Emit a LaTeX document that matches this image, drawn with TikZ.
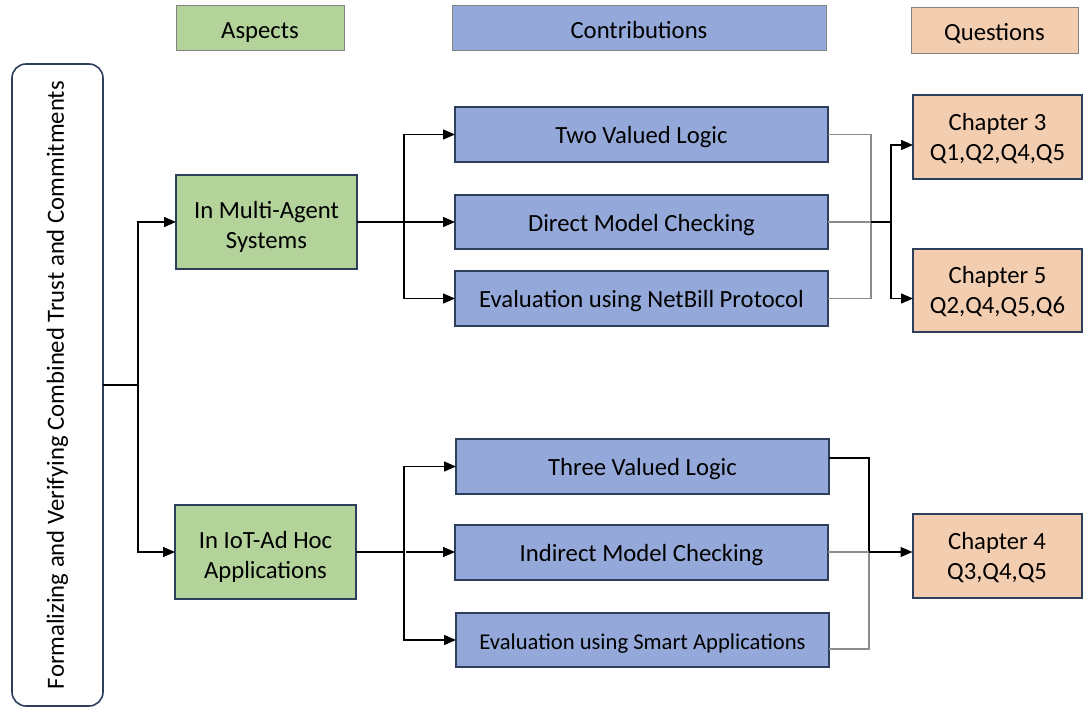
\documentclass[tikz,border=0pt]{standalone}
\usepackage{fontspec}
\setmainfont{Carlito}
\usetikzlibrary{arrows.meta}

\definecolor{aspectgreen}{RGB}{179,211,155}
\definecolor{contribblue}{RGB}{148,169,217}
\definecolor{questorange}{RGB}{243,205,176}
\definecolor{boxedge}{RGB}{46,63,94}
\definecolor{headedge}{RGB}{130,130,130}
\definecolor{thinline}{RGB}{140,140,140}

\tikzset{
  every node/.style={font=\fontsize{24.7}{30}\selectfont, inner sep=0pt, outer sep=0pt, align=center},
  box/.style={draw=boxedge, line width=2pt, fill=#1},
  headbox/.style={draw=headedge, line width=1pt, fill=#1, text height=20pt, text depth=0pt},
  oneline/.style={text height=18pt, text depth=0pt},
  twoline/.style={text height=#1, text depth=0pt},
  twoline/.default=46pt,
  link/.style={line width=1.4pt, black},
  faint/.style={line width=1.1pt, thinline},
  arr/.style={link, -{Triangle[length=12pt,width=10pt]}}
}

\begin{document}
\begin{tikzpicture}[x=1pt, y=-1pt]
  \useasboundingbox (0,0) rectangle (1083,709);

  % column headers
  \node[headbox=aspectgreen, minimum width=168, minimum height=45] (hA) at (260,28.5) {Aspects};
  \node[headbox=contribblue, minimum width=374, minimum height=45] (hC) at (639,28.5) {Contributions};
  \node[headbox=questorange, minimum width=167, minimum height=46] (hQ) at (994.5,31) {Questions};

  % overall topic
  \node[draw=boxedge, line width=1.6pt, rounded corners=14pt, fill=white,
        minimum width=642, minimum height=91, rotate=90] (root) at (57.5,385)
        {Formalizing and Verifying Combined Trust and Commitments};

  % aspects
  \node[box=aspectgreen, twoline=52pt, minimum width=181, minimum height=94] (ma) at (266.5,222) {In Multi-Agent\\Systems};
  \node[box=aspectgreen, twoline=52pt, minimum width=181, minimum height=94] (iot) at (265.5,552) {In IoT-Ad Hoc\\Applications};

  % contributions
  \node[box=contribblue, oneline, minimum width=373, minimum height=55] (c1) at (641.5,134.5) {Two Valued Logic};
  \node[box=contribblue, oneline, minimum width=373, minimum height=54] (c2) at (641.5,222) {Direct Model Checking};
  \node[box=contribblue, oneline, minimum width=373, minimum height=55] (c3) at (641.5,298.5) {Evaluation using NetBill Protocol};
  \node[box=contribblue, oneline, minimum width=373, minimum height=55] (c4) at (642.5,466.5) {Three Valued Logic};
  \node[box=contribblue, oneline, minimum width=373, minimum height=55] (c5) at (641.5,552) {Indirect Model Checking};
  \node[box=contribblue, oneline, minimum width=373, minimum height=54, font=\fontsize{22.6}{28}\selectfont] (c6) at (642.5,640) {Evaluation using Smart Applications};

  % questions
  \node[box=questorange, twoline, minimum width=169, minimum height=84] (q3) at (997.5,137) {Chapter 3\\Q1,Q2,Q4,Q5};
  \node[box=questorange, twoline, minimum width=169, minimum height=83] (q5) at (997.5,290.5) {Chapter 5\\Q2,Q4,Q5,Q6};
  \node[box=questorange, twoline, minimum width=169, minimum height=84] (q4) at (997,556) {Chapter 4\\Q3,Q4,Q5};

  % topic -> aspects
  \coordinate (rj) at (138,385);
  \draw[link] (root.south) -- (rj);
  \draw[arr] (rj) |- (ma.west);
  \draw[arr] (rj) |- (iot.west);

  % multi-agent aspect -> contributions
  \coordinate (mj) at (404,222);
  \draw[arr] (ma.east) -- (c2.west);
  \draw[arr] (mj) |- (c1.west);
  \draw[arr] (mj) |- (c3.west);

  % IoT aspect -> contributions
  \coordinate (ij) at (404,552);
  \draw[link] (iot.east) -- (ij);
  \draw[arr] (406,552) -- (c5.west);
  \draw[arr] (ij) |- (c4.west);
  \draw[arr] (ij) |- (c6.west);

  % contributions -> chapters 3 and 5
  \coordinate (ug) at (871,222);
  \coordinate (uq) at (891,222);
  \draw[faint] (c1.east) -| (ug) |- (c3.east);
  \draw[faint] (c2.east) -- (ug);
  \draw[link] (ug) -- (uq);
  \draw[arr] (uq) |- (q3.west |- 0,145);
  \draw[arr] (uq) |- (q5.west |- c3.east);

  % contributions -> chapter 4
  \coordinate (lg) at (869,552);
  \draw[link] (c4.east |- 0,458) -| (lg);
  \draw[faint] (c5.east) -- (lg);
  \draw[faint] (c6.east |- 0,649) -| (lg);
  \draw[arr] (lg) -- (q4.west |- lg);
\end{tikzpicture}
\end{document}
